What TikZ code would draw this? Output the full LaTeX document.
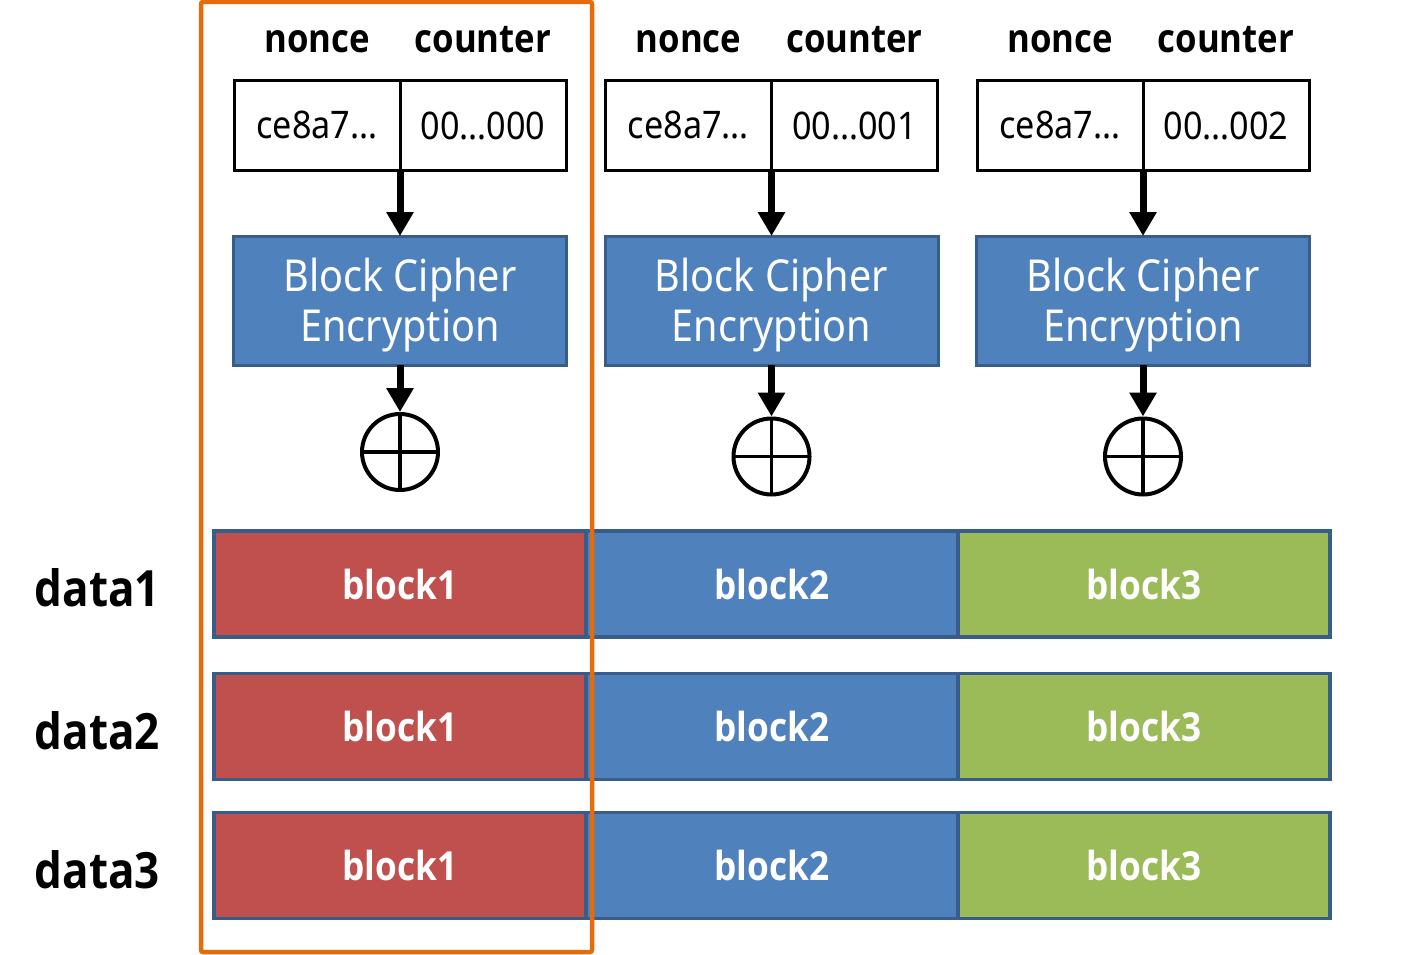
\documentclass[tikz,border=0pt]{standalone}
\usepackage{fontspec}
\setmainfont{Noto Sans}[FakeStretch=0.9]
\newfontfamily\boldfam{Open Sans}[FakeStretch=0.88]
\usepackage{tikz}
\usetikzlibrary{positioning}
\usetikzlibrary{arrows.meta}
\definecolor{encblue}{HTML}{4F81BD}
\definecolor{blkline}{HTML}{385D8A}
\definecolor{redblk}{HTML}{C0504D}
\definecolor{greenblk}{HTML}{9BBB59}
\definecolor{selorange}{HTML}{E46C0A}

\begin{document}
\begin{tikzpicture}[x=1pt,y=-1pt,
	keybox/.style={draw,line width=3pt,outer sep=0pt,inner sep=0pt,minimum width=166pt,minimum height=89pt,font=\fontsize{38}{44}\selectfont},
	hdr/.style={inner sep=0pt,anchor=base,font=\boldfam\bfseries\fontsize{39.5}{44}\selectfont},
	encbox/.style={draw=blkline,fill=encblue,line width=3pt,outer sep=0pt,minimum width=333pt,minimum height=129pt},
	enctext/.style={text=white,align=center,inner sep=0pt,font=\fontsize{44}{50}\selectfont},
	xorsym/.style={circle,draw,line width=4pt,minimum size=76pt,inner sep=0pt,
		path picture={\draw[line width=3.5pt] (path picture bounding box.north) -- (path picture bounding box.south)
			(path picture bounding box.west) -- (path picture bounding box.east);}},
	flow/.style={line width=7pt,-{Triangle[width=26pt,length=24pt]}},
	datablk/.style={draw=blkline,line width=3.5pt,outer sep=0pt,minimum width=372pt,minimum height=106pt,text=white,font=\boldfam\bfseries\fontsize{40}{44}\selectfont},
	rowlbl/.style={inner sep=0pt,font=\boldfam\bfseries\fontsize{50}{56}\selectfont},
	selbox/.style={draw=selorange,line width=4.5pt,rounded corners=2pt}]
	\useasboundingbox (0,0) rectangle (1405,955);
	% one column per counter value
	\foreach \i/\cnt/\xy in {0/000/452,1/001/456.5,2/002/456.5}{
		\pgfmathsetmacro\sx{400+371.5*\i}
		\node[keybox] (nonce\i) at (\sx-83,125.5) {ce8a7…};
		\node[keybox,right=0pt of nonce\i] (ctr\i) {00…\cnt};
		\node[hdr] (nlbl\i) at ([yshift=28pt]nonce\i.north) {nonce};
		\node[hdr] (clbl\i) at ([yshift=28pt]ctr\i.north) {counter};
		\node[encbox] (enc\i) at (\sx,300.5) {};
		\node[enctext] (enct\i) at ([yshift=-5pt]enc\i.center) {Block Cipher\\Encryption};
		\node[xorsym] (xor\i) at (\sx,\xy) {};
		\draw[flow] (nonce\i.south east) -- (enc\i.north);
		\draw[flow] (enc\i.south) -- (xor\i.north);
	}
	% data rows
	\foreach \r/\cy in {1/584,2/726.5,3/865.5}{
		\node[datablk,fill=redblk] (b1\r) at (400,\cy) {block1};
		\node[datablk,fill=encblue,right=0pt of b1\r] (b2\r) {block2};
		\node[datablk,fill=greenblk,right=0pt of b2\r] (b3\r) {block3};
		\node[rowlbl,left=54pt of b1\r,yshift=-4pt] (data\r) {data\r};
	}
	\draw[selbox] (201,2) rectangle (592,952);
\end{tikzpicture}
\end{document}
